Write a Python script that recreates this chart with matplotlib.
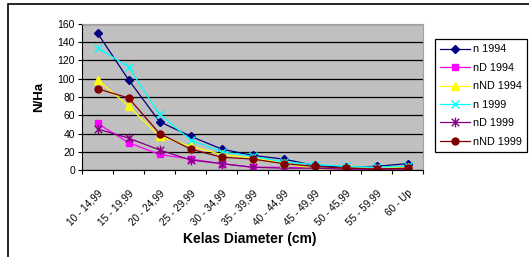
import matplotlib
matplotlib.use('Agg')
from matplotlib import pyplot as plt
from matplotlib.patches import Rectangle
from matplotlib.path import Path
from matplotlib.transforms import ScaledTranslation
import numpy as np

plt.rcParams['font.family'] = ['Liberation Sans', 'DejaVu Sans']

categories = ['10 - 14,99', '15 - 19,99', '20 - 24,99', '25 - 29,99', '30 - 34,99',
              '35 - 39,99', '40 - 44,99', '45 - 49,99', '50 - 45,99', '55 - 59,99', '60 - Up']

n_1994 = [150, 99, 53, 37, 23, 16, 12, 5, 3, 4, 7]
nD_1994 = [51, 30, 17, 12, 7, 3, 3, 2, 1, 1, 1]
nND_1994 = [99, 70, 37, 26, 17, 13, 8, 1, 2, 2, 3]
n_1999 = [134, 113, 61, 33, 20, 15, 9, 6, 4, 3, 4]
nD_1999 = [45, 35, 22, 11, 7, 3, 2, 2, 1, 1, 1]
nND_1999 = [89, 79, 40, 23, 14, 12, 7, 4, 2, 1, 2]

# excel style asterisk: an x with a vertical bar
asterisk = Path([(-1, -1), (1, 1), (-1, 1), (1, -1), (0, -1.3), (0, 1.3)],
                [Path.MOVETO, Path.LINETO, Path.MOVETO, Path.LINETO, Path.MOVETO, Path.LINETO])

series = [
    ('n 1994', n_1994, '#000080', 'D', 4),
    ('nD 1994', nD_1994, '#FF00FF', 's', 5),
    ('nND 1994', nND_1994, '#FFFF00', '^', 6),
    ('n 1999', n_1999, '#00FFFF', 'x', 6),
    ('nD 1999', nD_1999, '#800080', asterisk, 7),
    ('nND 1999', nND_1999, '#800000', 'o', 5),
]

fig = plt.figure(figsize=(5.29, 2.57), dpi=100)
W, H = 529, 257
ax = fig.add_axes([82 / W, 1 - 170 / H, (423 - 82) / W, (170 - 24) / H])
ax.set_facecolor('#C0C0C0')

# chart area border
fig.patches.append(Rectangle((8 / W, -0.1), 1.2, (1 - 4 / H) + 0.1, transform=fig.transFigure,
                             fill=False, edgecolor='black', linewidth=1.2))

x = np.arange(len(categories)) + 0.5
for label, vals, col, mk, ms in series:
    ax.plot(x, vals, color=col, lw=0.9, marker=mk, markersize=ms, markeredgewidth=1.0,
            markerfacecolor=col, markeredgecolor=col, label=label)

ax.set_xlim(0, len(categories))
ax.set_ylim(0, 160)
ax.set_yticks(np.arange(0, 161, 20))
ax.yaxis.grid(True, color='black', linewidth=0.9)
ax.set_axisbelow(True)

ax.set_xticks(np.arange(len(categories) + 1))
ax.set_xticklabels([])
ax.set_xticks(x, minor=True)
ax.set_xticklabels(categories, minor=True, rotation=45, ha='right', rotation_mode='anchor',
                   fontsize=7.2)
shift = ScaledTranslation(-7 / 100, 0, fig.dpi_scale_trans)
for lbl in ax.get_xticklabels(minor=True):
    lbl.set_transform(lbl.get_transform() + shift)
ax.tick_params(axis='x', which='minor', length=0, pad=13)
ax.tick_params(axis='x', which='major', length=3, direction='out')
ax.tick_params(axis='y', length=3, labelsize=7.5, pad=2)

for s in ['top', 'right']:
    ax.spines[s].set_color('#A0A0A0')
    ax.spines[s].set_linewidth(0.8)
for s in ['left', 'bottom']:
    ax.spines[s].set_color('black')

ax.set_ylabel('N/Ha', fontsize=9.5, fontweight='bold', labelpad=9)
fig.text(250 / W, 1 - 239 / H, 'Kelas Diameter (cm)', fontsize=10, fontweight='bold',
         ha='center', va='center')

leg = ax.legend(loc='upper left', bbox_to_anchor=(435 / W, 1 - 39 / H), bbox_transform=fig.transFigure,
                fontsize=7.8, frameon=True, fancybox=False, edgecolor='black', framealpha=1,
                handlelength=2.7, borderpad=0.5, labelspacing=0.78, handletextpad=0.3,
                borderaxespad=0)
leg.get_frame().set_linewidth(0.9)

fig.savefig('out.png', dpi=100)
